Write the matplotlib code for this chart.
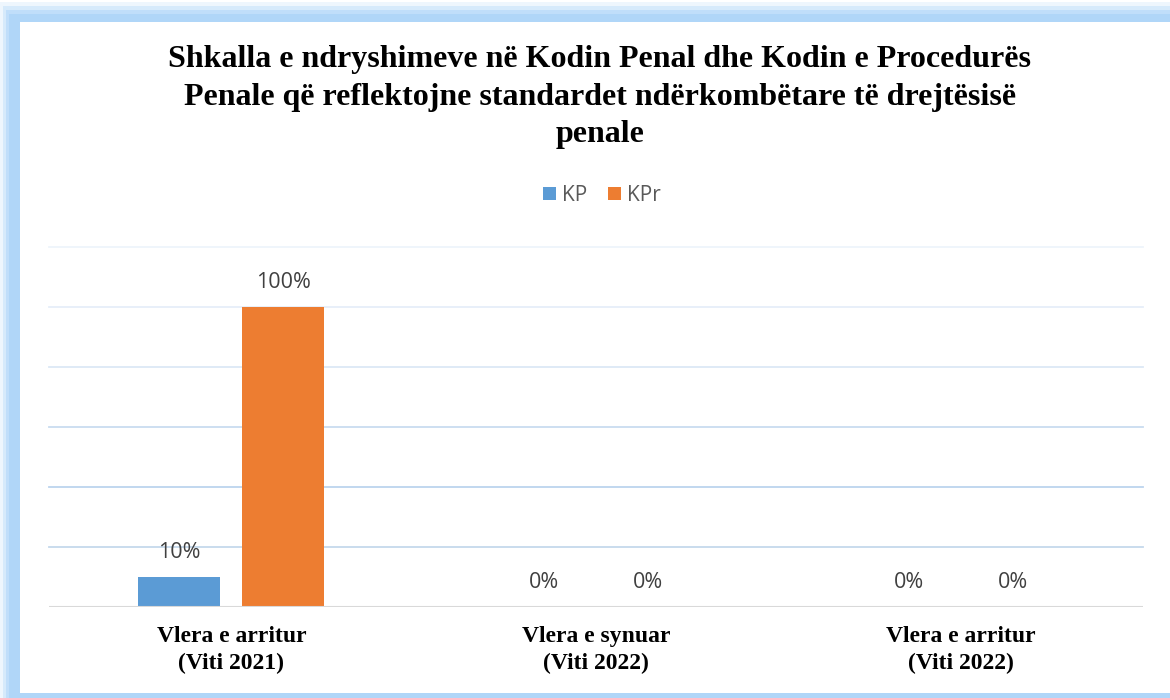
import matplotlib.pyplot as plt
import numpy as np
from matplotlib.patches import Rectangle

# data
categories = ["Vlera e arritur\n(Viti 2021)", "Vlera e synuar\n(Viti 2022)", "Vlera e arritur\n(Viti 2022)"]
kp = [10, 0, 0]
kpr = [100, 0, 0]
series_names = ["KP", "KPr"]
title = ("Shkalla e ndryshimeve në Kodin Penal dhe Kodin e Procedurës\n"
         "Penale që reflektojne standardet ndërkombëtare të drejtësisë\n"
         "penale")

W, H = 1170, 698
fig = plt.figure(figsize=(W / 100, H / 100), dpi=100)
fig.patch.set_facecolor("white")

# blue glowing frame around the white chart area
glow = [(0, 2, "#eef6fd"), (3, 6, "#d6eafb"), (6, 10, "#c0defa"), (9, 14, "#b0d6f8")]
for dx, dy, c in glow:
    fig.add_artist(Rectangle((dx / W, 0), 1, (H - dy) / H,
                             transform=fig.transFigure, facecolor=c,
                             edgecolor="none", zorder=-10))
fig.add_artist(Rectangle((20 / W, 1 - 693 / H), 1, (693 - 22) / H,
                         transform=fig.transFigure, facecolor="white",
                         edgecolor="none", zorder=-9))

ax = fig.add_axes([49 / W, 1 - 607 / H, (1143 - 49) / W, (607 - 247) / H])
ax.set_facecolor("none")

x = np.arange(len(categories))
bw = 0.225
off = 0.1425
b1 = ax.bar(x - off, kp, bw, color="#5b9bd5", zorder=3, label=series_names[0])
b2 = ax.bar(x + off, kpr, bw, color="#ed7d31", zorder=3, label=series_names[1])

ax.set_xlim(-0.5, len(categories) - 0.5)
ax.set_ylim(0, 120)

grid_cols = ["#c5d9ec", "#bcd4ee", "#c9dcf0", "#dce8f6", "#e6eef9", "#eef4fb"]
for yv, c in zip([20, 40, 60, 80, 100, 120], grid_cols):
    ax.axhline(yv, color=c, lw=1.3, zorder=1, clip_on=False)
ax.axhline(0, color="#d9d9d9", lw=1.5, zorder=4)

for bars in (b1, b2):
    for r in bars:
        ax.annotate(f"{r.get_height():.0f}%",
                    (r.get_x() + r.get_width() / 2, r.get_height()),
                    xytext=(0, 17.3), textcoords="offset points",
                    ha="center", va="center", fontsize=15.5,
                    family="Open Sans", color="#404040")

for s in ax.spines.values():
    s.set_visible(False)
ax.set_yticks([])
ax.set_xticks(x)
ax.set_xticklabels(categories, family="Liberation Serif", fontweight="bold",
                   fontsize=17, color="black", linespacing=1.32)
ax.tick_params(axis="x", length=0, pad=14)

fig.text(600 / W, 1 - 97 / H, title, ha="center", va="center",
         family="Liberation Serif", fontweight="bold", fontsize=23,
         linespacing=1.4)

leg = fig.legend(handles=[b1, b2], loc="center",
                 bbox_to_anchor=(602 / W, 1 - 195 / H), ncol=2, frameon=False,
                 prop={"family": "Open Sans", "size": 15}, handlelength=0.6,
                 handleheight=0.6, handletextpad=0.3, columnspacing=1.0)
for t in leg.get_texts():
    t.set_color("#595959")

fig.savefig("out.png", dpi=100)
